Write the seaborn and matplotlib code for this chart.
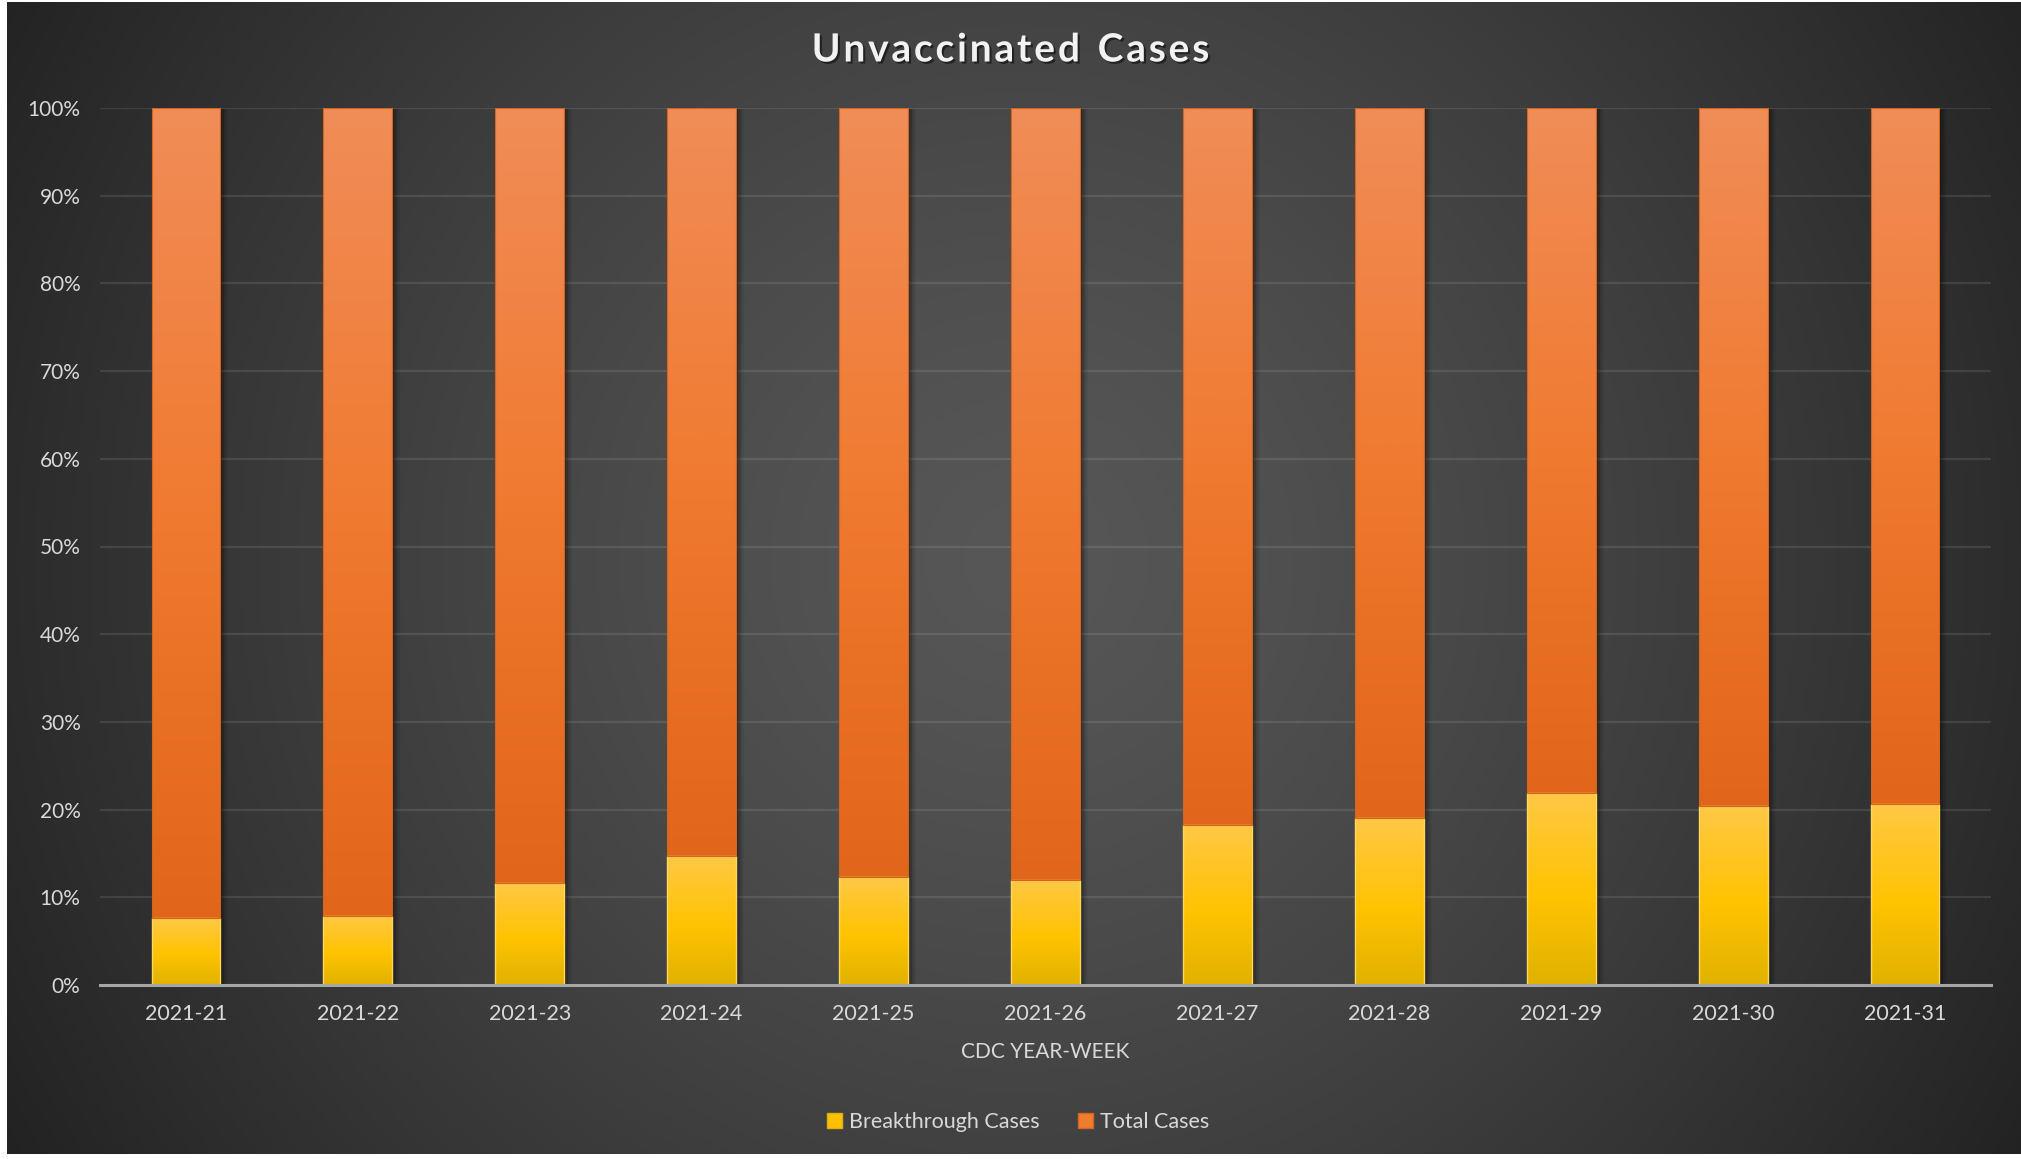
import numpy as np
import pandas as pd
import matplotlib
matplotlib.use("Agg")
import matplotlib.pyplot as plt
import seaborn as sns
from matplotlib.colors import LinearSegmentedColormap
from matplotlib.patches import Rectangle, Patch
import matplotlib.patheffects as pe

# ---- data (share of cases, %) ----
weeks = ["2021-21", "2021-22", "2021-23", "2021-24", "2021-25", "2021-26",
         "2021-27", "2021-28", "2021-29", "2021-30", "2021-31"]
breakthrough_pct = [7.6, 7.9, 11.6, 14.7, 12.3, 12.0, 18.3, 19.0, 21.9, 20.4, 20.6]
total_pct = [92.4, 92.1, 88.4, 85.3, 87.7, 88.0, 81.7, 81.0, 78.1, 79.6, 79.4]
series_names = ["Breakthrough Cases", "Total Cases"]
y_ticks = [0, 10, 20, 30, 40, 50, 60, 70, 80, 90, 100]
title = "Unvaccinated Cases"

df = pd.DataFrame({"week": weeks, "breakthrough": breakthrough_pct, "total": total_pct})

sns.set_theme(style="dark")
plt.rcParams["font.family"] = ["Lato", "DejaVu Sans"]

W, H = 2021, 1159
fig = plt.figure(figsize=(W / 100, H / 100), dpi=100, facecolor="white")

# ---- radial dark background ----
bg = fig.add_axes([7 / W, 5 / H, (W - 7) / W, (H - 7) / H])
bg.set_axis_off()
yy, xx = np.mgrid[0:H, 0:W]
r = np.sqrt((xx - 1015) ** 2 + (yy - 560) ** 2) / 1146.0
val = (87 - 51 * np.clip(r, 0, 1.3) ** 1.3) / 255.0
bg.imshow(np.dstack([val, val, val]), aspect="auto", extent=[0, 1, 0, 1], origin="upper")
bg.set_xlim(0, 1)
bg.set_ylim(0, 1)

# ---- main axes ----
ax = fig.add_axes([100 / W, 174 / H, 1891 / W, 877 / H])
ax.set_facecolor("none")

yellow_cmap = LinearSegmentedColormap.from_list(
    "yel", [(0.0, "#E0B200"), (0.45, "#FFC300"), (1.0, "#FFC845")])
orange_cmap = LinearSegmentedColormap.from_list(
    "ora", [(0.0, "#E0661A"), (0.5, "#F07A30"), (1.0, "#F08D58")])

sns.barplot(data=df, x="week", y="breakthrough", ax=ax, width=0.4,
            color="#FFC000", edgecolor="#FFD75A", linewidth=1.0, zorder=3)
sns.barplot(data=df, x="week", y="total", ax=ax, width=0.4,
            color="#F07C2E", edgecolor="#D4651E", linewidth=0.8, zorder=3,
            bottom=breakthrough_pct)

grad = np.linspace(0, 1, 256).reshape(-1, 1)
px_x = 11.0 / 1891.0   # data units per pixel (x)
px_y = 100.0 / 877.0   # data units per pixel (y)
for ci, cont in enumerate(ax.containers):
    cmap = yellow_cmap if ci == 0 else orange_cmap
    for p in cont:
        x, y = p.get_x(), p.get_y()
        w, h = p.get_width(), p.get_height()
        # soft drop shadow to the right
        for k, a in zip([2, 4, 6, 8], [0.22, 0.16, 0.10, 0.05]):
            ax.add_patch(Rectangle((x + k * px_x, y - 1 * px_y), w, h,
                                   facecolor="black", edgecolor="none",
                                   alpha=a, zorder=1))
        im = ax.imshow(grad, cmap=cmap, aspect="auto", origin="lower",
                       extent=[x, x + w, y, y + h], zorder=2.5)
        im.set_clip_path(p)
        p.set_facecolor("none")

ax.set_xlim(-0.5, len(weeks) - 0.5)
ax.set_ylim(0, 100)
ax.set_yticks(y_ticks)
ax.set_yticklabels([f"{t}%" for t in y_ticks])
ax.grid(False)
for t in y_ticks[1:]:
    ax.axhline(t, color="#FFFFFF", alpha=0.10, lw=1.6, zorder=0.5)

for s in ["top", "right", "left"]:
    ax.spines[s].set_visible(False)
ax.spines["bottom"].set_color("#A6A6A6")
ax.spines["bottom"].set_linewidth(2.2)
ax.spines["bottom"].set_zorder(4)

ax.tick_params(axis="both", length=0, colors="#D9D9D9", labelsize=15)
ax.tick_params(axis="y", pad=14)
ax.tick_params(axis="x", pad=14)
ax.set_ylabel("")
ax.set_xlabel("CDC YEAR-WEEK", color="#D9D9D9", fontsize=15)
ax.xaxis.set_label_coords(0.5, (985 - 1052) / 877)
ax.xaxis.label.set_va("center")
for lab in ax.get_xticklabels():
    lab.set_fontsize(15.5)

# ---- title with letter spacing ----
renderer = fig.canvas.get_renderer()
title_kw = dict(fontsize=28, fontweight="bold", color="#F2F2F2", va="center", ha="left",
                path_effects=[pe.withSimplePatchShadow(offset=(1.5, -1.5),
                                                       shadow_rgbFace="black", alpha=0.5)])
spacing_px = 2.8
widths = []
for ch in title:
    if ch == " ":
        t = fig.text(0, 0, "n", **title_kw)
        wpx = t.get_window_extent(renderer).width * 0.55
    else:
        t = fig.text(0, 0, ch, **title_kw)
        wpx = t.get_window_extent(renderer).width
    t.remove()
    widths.append(wpx)
total_w = sum(widths) + spacing_px * (len(title) - 1)
x0 = (W / 2 - total_w / 2)
ty = 1 - 50 / H
for ch, wpx in zip(title, widths):
    if ch != " ":
        fig.text(x0 / W, ty, ch, **title_kw)
    x0 += wpx + spacing_px

# ---- legend ----
handles = [Patch(facecolor="#FFC000", edgecolor="#E0B200"),
           Patch(facecolor="#F07C2E", edgecolor="#D4651E")]
fig.legend(handles, series_names, loc="center", ncol=2, frameon=False,
           bbox_to_anchor=(1018 / W, 1 - 1122 / H), fontsize=15.5,
           labelcolor="#D9D9D9", handlelength=0.7, handleheight=0.7,
           handletextpad=0.3, columnspacing=1.8)

fig.savefig("out.png", dpi=100, facecolor="white")
